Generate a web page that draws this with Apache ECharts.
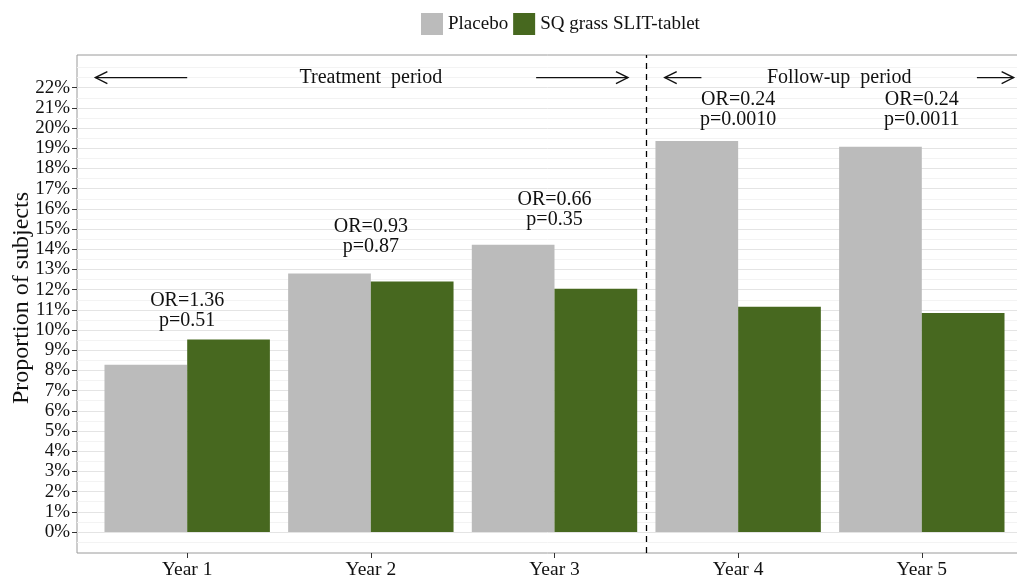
<!DOCTYPE html>
<html>
<head>
<meta charset="utf-8">
<script src="https://cdn.jsdelivr.net/npm/echarts@6/dist/echarts.min.js"></script>
<style>
html,body{margin:0;padding:0;background:#fff;}
#chart{width:1017px;height:581px;}
</style>
</head>
<body>
<div id="chart"></div>
<script>
// ---- data ----
var categories = ['Year 1', 'Year 2', 'Year 3', 'Year 4', 'Year 5'];
var categoryPos = [1, 2, 3, 4, 5];
var placebo = [8.28, 12.80, 14.22, 19.36, 19.08];
var active = [9.53, 12.40, 12.04, 11.16, 10.85];
var orLabels = ['OR=1.36', 'OR=0.93', 'OR=0.66', 'OR=0.24', 'OR=0.24'];
var pLabels = ['p=0.51', 'p=0.87', 'p=0.35', 'p=0.0010', 'p=0.0011'];
var statLabelY = [10.96, 14.63, 15.95, 20.93, 20.93];
var yTicks = [0,1,2,3,4,5,6,7,8,9,10,11,12,13,14,15,16,17,18,19,20,21,22];
var yMinor = [-0.5,0.5,1.5,2.5,3.5,4.5,5.5,6.5,7.5,8.5,9.5,10.5,11.5,12.5,13.5,14.5,15.5,16.5,17.5,18.5,19.5,20.5,21.5,22.5,23];
var periodTexts = ['Treatment  period', 'Follow-up  period'];
var periodTextX = [2.0, 4.55];
var periodY = 22.5;
// arrows: [from x, to x (head), y]
var arrows = [[1.0, 0.5, 22.5], [2.9, 3.4, 22.5], [3.8, 3.6, 22.5], [5.3, 5.5, 22.5]];
var dividerX = 3.5;
var yMin = -1.04, yMax = 23.62, xMin = 0.4, xMax = 5.6;

var FONT = '"Liberation Serif", "DejaVu Serif", serif';
var chart = echarts.init(document.getElementById('chart'), null, {renderer: 'canvas'});

var option = {
  animation: false,
  backgroundColor: '#ffffff',
  textStyle: {fontFamily: FONT},
  legend: {
    left: 421, top: 13, padding: 0,
    itemWidth: 22, itemHeight: 22, itemGap: 5,
    icon: 'rect',
    textStyle: {fontFamily: FONT, fontSize: 19, color: '#111'},
    data: ['Placebo', 'SQ grass SLIT-tablet']
  },
  grid: {
    left: 77, top: 55, width: 955, height: 498,
    containLabel: false, outerBoundsMode: 'none',
    show: true, borderColor: '#9a9a9a', borderWidth: 1, backgroundColor: '#fff'
  },
  xAxis: {
    type: 'value', min: xMin, max: xMax,
    axisLine: {show: false, onZero: false},
    splitLine: {show: false},
    axisTick: {show: true, length: 5, lineStyle: {color: '#333'}, customValues: categoryPos},
    axisLabel: {
      customValues: categoryPos, margin: 7,
      fontFamily: FONT, fontSize: 19.5, color: '#111',
      formatter: function (v) { return categories[Math.round(v) - 1]; }
    }
  },
  yAxis: [{
    type: 'value', min: yMin, max: yMax,
    name: 'Proportion of subjects', nameLocation: 'middle', nameGap: 43, nameRotate: 90,
    nameMoveOverlap: false,
    nameTextStyle: {fontFamily: FONT, fontSize: 24, color: '#111', padding: [0, 0, 0, 12]},
    axisLine: {show: false, onZero: false},
    axisTick: {show: true, length: 5, lineStyle: {color: '#333'}, customValues: yTicks},
    axisLabel: {
      customValues: yTicks, margin: 7,
      fontFamily: FONT, fontSize: 19, color: '#111',
      formatter: function (v) { return v + '%'; }
    },
    splitLine: {show: true, lineStyle: {color: '#e4e4e4', width: 1}}
  }, {
    type: 'value', min: yMin, max: yMax, position: 'left',
    axisLine: {show: false, onZero: false},
    axisTick: {show: false, customValues: yMinor},
    axisLabel: {show: false, customValues: yMinor},
    splitLine: {show: true, lineStyle: {color: '#f3f3f3', width: 1}}
  }],
  series: [
    {
      name: 'Placebo', type: 'bar', barWidth: 82.7, barGap: '0%',
      itemStyle: {color: '#bbbbbb'},
      data: placebo.map(function (v, i) { return [categoryPos[i], v]; }),
      silent: true
    },
    {
      name: 'SQ grass SLIT-tablet', type: 'bar', barWidth: 82.7, barGap: '0%',
      itemStyle: {color: '#47681f'},
      data: active.map(function (v, i) { return [categoryPos[i], v]; }),
      silent: true
    },
    {
      type: 'scatter', symbolSize: 0, silent: true,
      itemStyle: {opacity: 1},
      data: statLabelY.map(function (v, i) { return [categoryPos[i], v]; }),
      label: {
        show: true, position: 'inside',
        fontFamily: FONT, fontSize: 20, color: '#111', lineHeight: 20, align: 'center',
        formatter: function (p) { return orLabels[p.dataIndex] + '\n' + pLabels[p.dataIndex]; }
      },
      z: 5
    },
    {
      type: 'scatter', symbolSize: 0, silent: true,
      itemStyle: {opacity: 1},
      data: periodTextX.map(function (x) { return [x, periodY]; }),
      label: {
        show: true, position: 'inside',
        fontFamily: FONT, fontSize: 20, color: '#111',
        formatter: function (p) { return periodTexts[p.dataIndex]; }
      },
      markLine: {
        silent: true, symbol: ['none', 'none'], label: {show: false},
        lineStyle: {color: '#000', type: [6, 5], width: 1.3},
        data: [{xAxis: dividerX}]
      },
      z: 5
    },
    {
      type: 'custom', silent: true,
      encode: {x: [0, 1], y: 2},
      data: arrows,
      renderItem: function (params, api) {
        var p1 = api.coord([api.value(0), api.value(2)]);
        var p2 = api.coord([api.value(1), api.value(2)]);
        var dir = p2[0] > p1[0] ? 1 : -1;
        var style = {stroke: '#111', lineWidth: 1.4, fill: null};
        return {
          type: 'group',
          children: [
            {type: 'line', shape: {x1: p1[0], y1: p1[1], x2: p2[0], y2: p2[1]}, style: style},
            {type: 'polyline', shape: {points: [[p2[0] - dir * 12, p2[1] - 6], [p2[0], p2[1]], [p2[0] - dir * 12, p2[1] + 6]]}, style: style}
          ]
        };
      },
      z: 5
    }
  ]
};
chart.setOption(option);
</script>
</body>
</html>
